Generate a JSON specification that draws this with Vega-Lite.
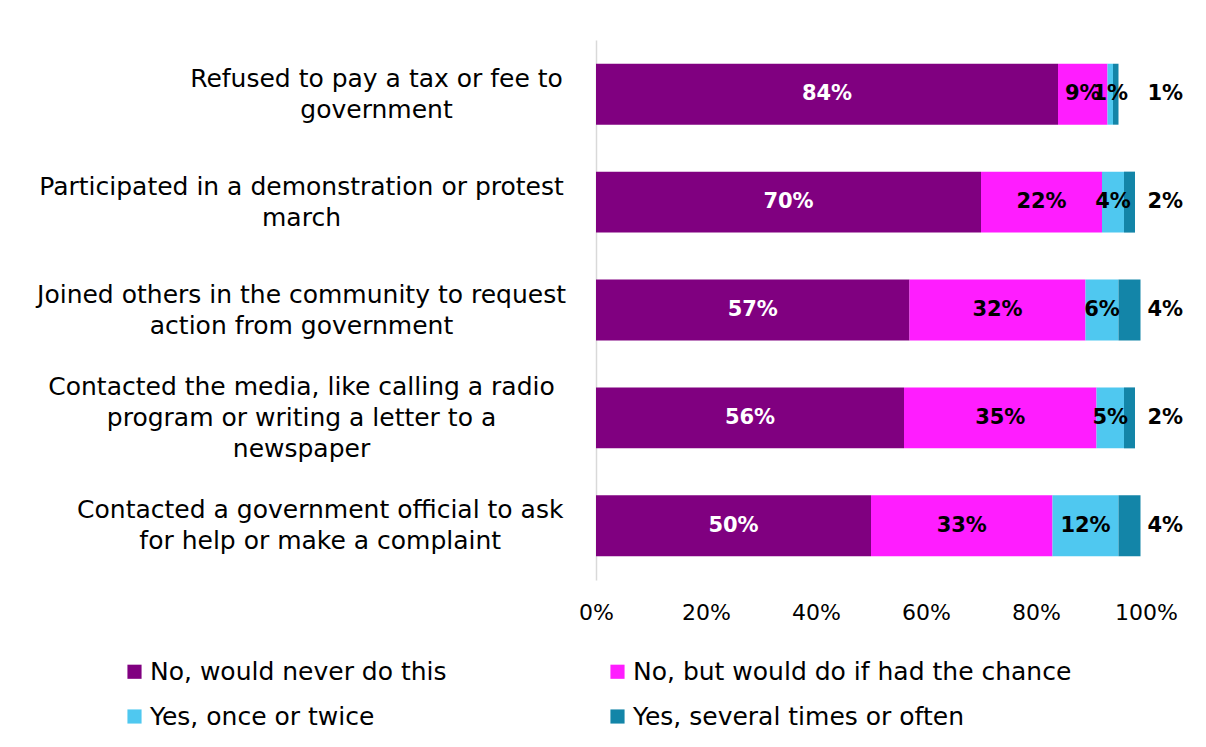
{
  "$schema": "https://vega.github.io/schema/vega-lite/v6.json",
  "autosize": "none",
  "width": 550,
  "height": 540,
  "padding": {"left": 596, "top": 40, "right": 60, "bottom": 167},
  "background": "white",
  "config": {
    "view": {"stroke": null},
    "font": "DejaVu Sans"
  },
  "data": {
    "values": [
      {"q": "Refused to pay a tax or fee to government", "r": "No, would never do this", "o": 1, "v": 84},
      {"q": "Refused to pay a tax or fee to government", "r": "No, but would do if had the chance", "o": 2, "v": 9},
      {"q": "Refused to pay a tax or fee to government", "r": "Yes, once or twice", "o": 3, "v": 1},
      {"q": "Refused to pay a tax or fee to government", "r": "Yes, several times or often", "o": 4, "v": 1},
      {"q": "Participated in a demonstration or protest march", "r": "No, would never do this", "o": 1, "v": 70},
      {"q": "Participated in a demonstration or protest march", "r": "No, but would do if had the chance", "o": 2, "v": 22},
      {"q": "Participated in a demonstration or protest march", "r": "Yes, once or twice", "o": 3, "v": 4},
      {"q": "Participated in a demonstration or protest march", "r": "Yes, several times or often", "o": 4, "v": 2},
      {"q": "Joined others in the community to request action from government", "r": "No, would never do this", "o": 1, "v": 57},
      {"q": "Joined others in the community to request action from government", "r": "No, but would do if had the chance", "o": 2, "v": 32},
      {"q": "Joined others in the community to request action from government", "r": "Yes, once or twice", "o": 3, "v": 6},
      {"q": "Joined others in the community to request action from government", "r": "Yes, several times or often", "o": 4, "v": 4},
      {"q": "Contacted the media, like calling a radio program or writing a letter to a newspaper", "r": "No, would never do this", "o": 1, "v": 56},
      {"q": "Contacted the media, like calling a radio program or writing a letter to a newspaper", "r": "No, but would do if had the chance", "o": 2, "v": 35},
      {"q": "Contacted the media, like calling a radio program or writing a letter to a newspaper", "r": "Yes, once or twice", "o": 3, "v": 5},
      {"q": "Contacted the media, like calling a radio program or writing a letter to a newspaper", "r": "Yes, several times or often", "o": 4, "v": 2},
      {"q": "Contacted a government official to ask for help or make a complaint", "r": "No, would never do this", "o": 1, "v": 50},
      {"q": "Contacted a government official to ask for help or make a complaint", "r": "No, but would do if had the chance", "o": 2, "v": 33},
      {"q": "Contacted a government official to ask for help or make a complaint", "r": "Yes, once or twice", "o": 3, "v": 12},
      {"q": "Contacted a government official to ask for help or make a complaint", "r": "Yes, several times or often", "o": 4, "v": 4}
    ]
  },
  "transform": [
    {"stack": "v", "groupby": ["q"], "sort": [{"field": "o"}], "as": ["x0", "x1"]},
    {"calculate": "(datum.x0 + datum.x1) / 2", "as": "mid"},
    {"calculate": "datum.v + '%'", "as": "lbl"}
  ],
  "encoding": {
    "y": {
      "field": "q",
      "type": "nominal",
      "sort": null,
      "scale": {"paddingInner": 0.435, "paddingOuter": 0.22},
      "axis": {
        "title": null,
        "ticks": false,
        "domainColor": "#d9d9d9",
        "domainWidth": 1.5,
        "labelAlign": "center",
        "labelPadding": 295,
        "labelFontSize": 25,
        "labelColor": "#000000",
        "labelLimit": 800,
        "labelLineHeight": 31,
        "labelOffset": {"condition": {"test": "indexof(datum.value, 'newspaper') >= 0", "value": -31}, "value": -15.5},
        "labelExpr": "datum.value == 'Refused to pay a tax or fee to government' ? ['\u200b\u2003\u2003\u2003\u2003\u2003\u2003Refused to pay a tax or fee to', '\u200b\u2003\u2003\u2003\u2003\u2003\u2003government'] : datum.value == 'Participated in a demonstration or protest march' ? ['Participated in a demonstration or protest', 'march'] : datum.value == 'Joined others in the community to request action from government' ? ['Joined others in the community to request', 'action from government'] : datum.value == 'Contacted the media, like calling a radio program or writing a letter to a newspaper' ? ['Contacted the media, like calling a radio', 'program or writing a letter to a', 'newspaper'] : ['\u200b\u2003\u2002Contacted a government official to ask', '\u200b\u2003\u2002for help or make a complaint']"
      }
    }
  },
  "layer": [
    {
      "mark": {"type": "bar"},
      "encoding": {
        "x": {
          "field": "x0",
          "type": "quantitative",
          "scale": {"domain": [0, 100], "nice": false},
          "axis": {
            "title": null,
            "values": [0, 20, 40, 60, 80, 100],
            "labelExpr": "datum.value + '%'",
            "grid": false,
            "domain": false,
            "ticks": false,
            "labelPadding": 22,
            "labelFontSize": 22,
            "labelColor": "#000000",
            "labelFlush": false
          }
        },
        "x2": {"field": "x1"},
        "color": {
          "field": "r",
          "type": "nominal",
          "scale": {
            "domain": ["No, would never do this", "No, but would do if had the chance", "Yes, once or twice", "Yes, several times or often"],
            "range": ["#800080", "#FF1DFF", "#4FC8F0", "#1385A8"]
          },
          "legend": {
            "title": null,
            "orient": "none",
            "direction": "horizontal",
            "legendX": -474,
            "legendY": 619,
            "columns": 2,
            "symbolType": "square",
            "symbolSize": 200,
            "symbolStrokeWidth": 0,
            "labelFontSize": 25,
            "labelColor": "#000000",
            "labelLimit": 600,
            "columnPadding": 158,
            "rowPadding": 19,
            "labelOffset": 3
          }
        }
      }
    },
    {
      "transform": [{"filter": "datum.o < 4"}],
      "mark": {"type": "text", "fontWeight": "bold", "fontSize": 21},
      "encoding": {
        "x": {"field": "mid", "type": "quantitative"},
        "text": {"field": "lbl"},
        "color": {
          "condition": {"test": "datum.o == 1", "value": "#ffffff"},
          "value": "#000000"
        }
      }
    },
    {
      "transform": [{"filter": "datum.o == 4"}],
      "mark": {"type": "text", "fontWeight": "bold", "fontSize": 21, "color": "#000000"},
      "encoding": {
        "x": {"datum": 103.5},
        "text": {"field": "lbl"}
      }
    }
  ]
}
